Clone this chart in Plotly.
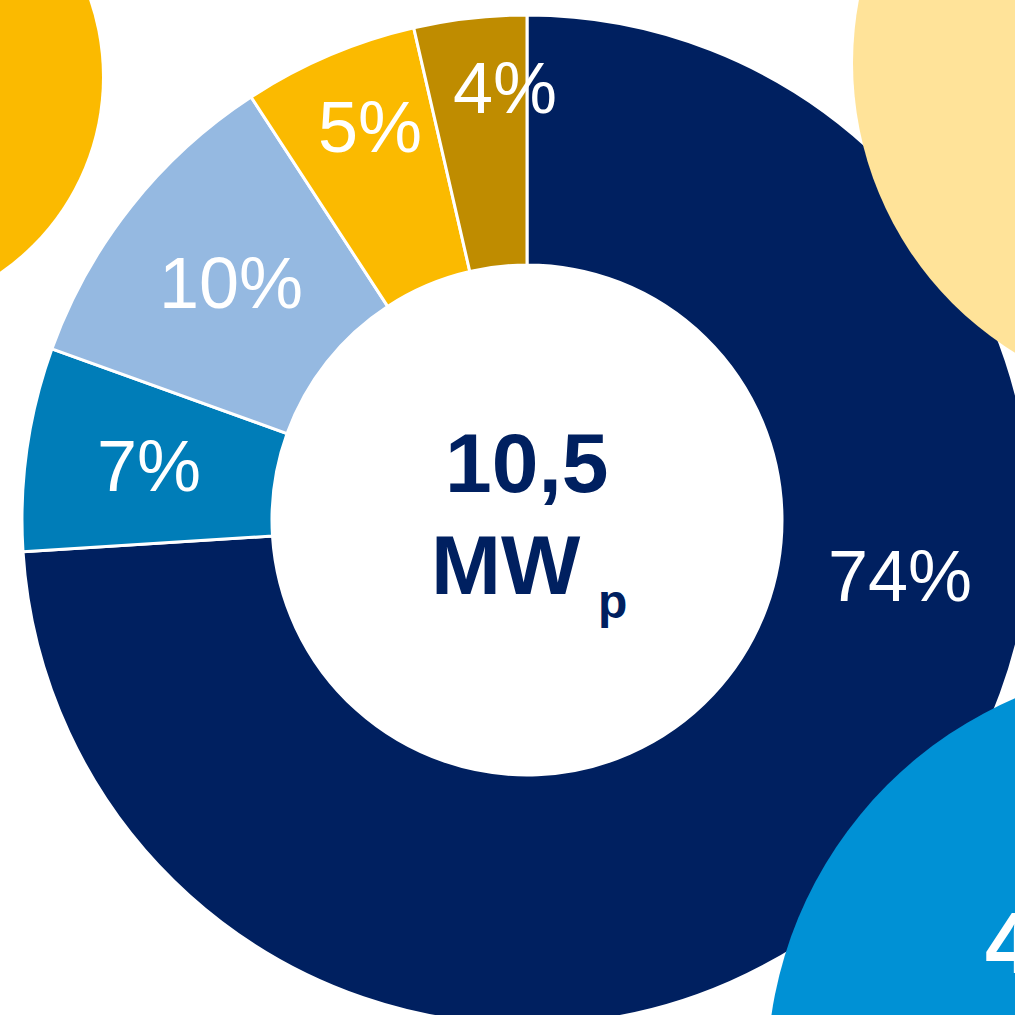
import plotly.graph_objects as go

# ---- data ----
segments = ["Segment A", "Segment B", "Segment C", "Segment D", "Segment E"]
shares = [74.0, 6.5, 10.3, 5.6, 3.6]
share_labels = ["74%", "7%", "10%", "5%", "4%"]
slice_colors = ["#002060", "#007DB8", "#95B9E1", "#FBBA00", "#BF8C00"]
total_value = "10,5"
total_unit = "MW"
total_unit_sub = "p"

# ---- layout geometry (pixels) ----
W, H = 1040, 1030
CX, CY, R, R_IN = 527, 520, 505, 255
label_pos = [(900, 576), (149, 466), (231, 283), (370, 127), (505, 88)]
FONT = "Liberation Sans Narrow, Arial Narrow, Liberation Sans, Arial, sans-serif"


def px(x):
    return x / W


def py(y):
    return 1 - y / H


fig = go.Figure()
fig.add_trace(go.Pie(
    labels=segments,
    values=shares,
    sort=False,
    direction="clockwise",
    rotation=0,
    hole=R_IN / R,
    marker=dict(colors=slice_colors, line=dict(color="white", width=3)),
    textinfo="none",
    hoverinfo="label+percent",
    showlegend=False,
    domain=dict(x=[px(CX - R), px(CX + R)], y=[py(CY + R), py(CY - R)]),
))

# decorative circles
circles = [
    ((-135, 77), 237, "#FBBA00"),
    ((1193, 63), 340, "#FFE399"),
    ((1177, 1075), 410, "#0091D5"),
]
for (cx, cy), r, col in circles:
    fig.add_shape(type="circle", xref="paper", yref="paper",
                  x0=px(cx - r), x1=px(cx + r), y0=py(cy + r), y1=py(cy - r),
                  fillcolor=col, line=dict(width=0), layer="above")

annotations = []
for (x, y), t in zip(label_pos, share_labels):
    annotations.append(dict(x=px(x), y=py(y), xref="paper", yref="paper",
                            text=t, showarrow=False, xanchor="center", yanchor="middle",
                            font=dict(family=FONT, size=72, color="white")))

annotations.append(dict(x=px(527), y=py(463), xref="paper", yref="paper",
                        text="<b>%s</b>" % total_value, showarrow=False,
                        xanchor="center", yanchor="middle",
                        font=dict(family=FONT, size=84, color="#002060")))
annotations.append(dict(x=px(506), y=py(565), xref="paper", yref="paper",
                        text="<b>%s</b>" % total_unit, showarrow=False,
                        xanchor="center", yanchor="middle",
                        font=dict(family=FONT, size=84, color="#002060")))
annotations.append(dict(x=px(612), y=py(601), xref="paper", yref="paper",
                        text="<b>%s</b>" % total_unit_sub, showarrow=False,
                        xanchor="center", yanchor="middle",
                        font=dict(family=FONT, size=48, color="#002060")))
annotations.append(dict(x=px(983), y=py(942), xref="paper", yref="paper",
                        text="<b>4</b>", showarrow=False,
                        xanchor="left", yanchor="middle",
                        font=dict(family="Liberation Sans, Arial, sans-serif", size=88, color="white")))

fig.update_layout(
    width=W, height=H, autosize=False,
    margin=dict(l=0, r=0, t=0, b=0),
    paper_bgcolor="white", plot_bgcolor="white",
    annotations=annotations,
)

fig.write_html("out.html", config={"displayModeBar": False},
               post_script="document.documentElement.style.overflow='hidden';"
                           "document.body.style.overflow='hidden';"
                           "document.body.style.margin='0';")
